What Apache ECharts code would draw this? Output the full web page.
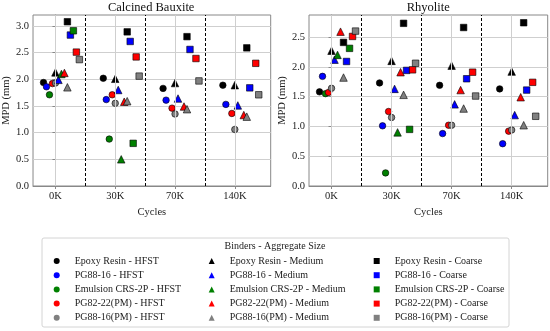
<!DOCTYPE html>
<html>
<head>
<meta charset="utf-8">
<script src="https://cdn.jsdelivr.net/npm/echarts@6/dist/echarts.min.js"></script>
<style>html,body{margin:0;padding:0;background:#fff}#c{width:550px;height:331px}</style>
</head>
<body>
<div id="c"></div>
<script>
const cycles = ['0K', '30K', '70K', '140K'];
const binders = ['Epoxy Resin', 'PG88-16', 'Emulsion CRS-2P', 'PG82-22(PM)', 'PG88-16(PM)'];
const sizes = ['HFST', 'Medium', 'Coarse'];
const plotTitles = ['Calcined Bauxite', 'Rhyolite'];

// Calcined Bauxite: rows = binders, columns = cycles
const bauxiteHFST = [
  [1.94, 2.02, 1.83, 1.89],
  [1.86, 1.62, 1.61, 1.53],
  [1.71, 0.88, null, null],
  [1.92, 1.71, 1.46, 1.36],
  [1.93, 1.55, 1.35, 1.06]
];
const bauxiteMedium = [
  [2.13, 2.01, 1.93, 1.89],
  [1.99, 1.80, 1.64, 1.51],
  [2.10, 0.50, null, null],
  [2.12, 1.58, 1.49, 1.33],
  [1.85, 1.59, 1.44, 1.30]
];
const bauxiteCoarse = [
  [3.08, 2.89, 2.80, 2.59],
  [2.83, 2.71, 2.56, 1.84],
  [2.91, 0.80, null, null],
  [2.51, 2.42, 2.39, 2.30],
  [2.37, 2.06, 1.97, 1.71]
];
// Rhyolite
const rhyoliteHFST = [
  [1.58, 1.73, 1.69, 1.63],
  [1.84, 1.01, 0.88, 0.71],
  [1.55, 0.22, null, null],
  [1.57, 1.25, 1.02, 0.92],
  [1.64, 1.15, 1.02, 0.94]
];
const rhyoliteMedium = [
  [2.27, 2.10, 2.02, 1.92],
  [2.12, 1.63, 1.37, 1.19],
  [2.20, 0.90, null, null],
  [2.59, 1.91, 1.61, 1.49],
  [1.82, 1.53, 1.30, 1.02]
];
const rhyoliteCoarse = [
  [2.41, 2.73, 2.66, 2.74],
  [2.09, 1.94, 1.80, 1.61],
  [2.31, 0.95, null, null],
  [2.51, 1.95, 1.91, 1.74],
  [2.60, 2.06, 1.51, 1.17]
];
const yTicks = [[0, 0.5, 1.0, 1.5, 2.0, 2.5, 3.0], [0, 0.5, 1.0, 1.5, 2.0, 2.5]];

const plotData = [
  [bauxiteHFST, bauxiteMedium, bauxiteCoarse],
  [rhyoliteHFST, rhyoliteMedium, rhyoliteCoarse]
];
const colors = ['#000000', '#0000ff', '#008000', '#ff0000', '#808080'];
const symbols = ['circle', 'triangle', 'rect'];
const symSizes = [6.5, 7.5, 6.5];
const FONT = 'Liberation Serif';

const grids = [
  {left: 31.7, top: 15, width: 239, height: 171},
  {left: 309, top: 15, width: 238.7, height: 171}
];
const yMax = [3.206, 2.87];

const series = [];
for (let p = 0; p < 2; p++) {
  // helper series for vertical grid lines and separators
  series.push({
    type: 'scatter', xAxisIndex: p, yAxisIndex: p, data: [], z: 1, silent: true,
    markLine: {
      silent: true, symbol: 'none', label: {show: false}, animation: false,
      data: [0, 1, 2, 3].map(v => ({xAxis: v, lineStyle: {color: '#cfcfcf', width: 1, type: 'solid'}}))
        .concat([0.5, 1.5, 2.5].map(v => ({xAxis: v, lineStyle: {color: '#000', width: 1, type: [3, 2]}})))
    }
  });
  for (let s = 0; s < 3; s++) {
    for (let b = 0; b < 5; b++) {
      const vals = plotData[p][s][b];
      const off = -0.2 + 0.2 * s + 0.05 * b;
      const data = [];
      vals.forEach((v, i) => { if (v !== null) data.push([i + off, v]); });
      series.push({
        type: 'scatter',
        name: binders[b] + ' - ' + sizes[s],
        xAxisIndex: p, yAxisIndex: p, z: 3,
        symbol: symbols[s], symbolSize: symSizes[s],
        itemStyle: {color: colors[b], borderColor: '#000', borderWidth: 0.6, opacity: 1},
        data: data, animation: false
      });
    }
  }
}

const xAxes = grids.map((g, p) => ({
  type: 'value', gridIndex: p, min: -0.375, max: 3.6,
  name: 'Cycles', nameLocation: 'middle', nameGap: 14,
  nameTextStyle: {fontFamily: FONT, fontSize: 10.5, color: '#222'},
  axisLine: {show: true, lineStyle: {color: '#888'}},
  axisTick: {show: true, customValues: [0, 1, 2, 3], length: 3, lineStyle: {color: '#888'}},
  axisLabel: {customValues: [0, 1, 2, 3], formatter: v => cycles[Math.round(v)], fontFamily: FONT, fontSize: 10.5, color: '#222', margin: 5},
  splitLine: {show: false}
}));
const yAxes = grids.map((g, p) => ({
  type: 'value', gridIndex: p, min: 0, max: yMax[p],
  name: 'MPD (mm)', nameLocation: 'middle', nameGap: 18,
  nameTextStyle: {fontFamily: FONT, fontSize: 10.5, color: '#222'},
  axisLine: {show: true, lineStyle: {color: '#888'}},
  axisTick: {show: true, customValues: yTicks[p], length: 3, lineStyle: {color: '#888'}},
  axisLabel: {customValues: yTicks[p], formatter: v => v.toFixed(1), fontFamily: FONT, fontSize: 10.5, color: '#222', margin: 4},
  splitLine: {show: true, lineStyle: {color: '#cfcfcf', width: 1}}
}));

const legendLefts = [53.7, 208.7, 373.7];
const legends = sizes.map((sz, s) => ({
  orient: 'vertical', left: legendLefts[s], top: 253.9, height: 76, padding: 0,
  itemWidth: 6, itemHeight: 6, itemGap: 0,
  data: binders.map(b => b + ' - ' + sz),
  itemStyle: {borderWidth: 0},
  textStyle: {fontFamily: FONT, fontSize: 10, color: '#222', lineHeight: 14.2, padding: [0, 0, 0, 10]},
  selectedMode: false
}));

const chart = echarts.init(document.getElementById('c'), null, {renderer: 'canvas'});
chart.setOption({
  animation: false,
  backgroundColor: '#fff',
  grid: grids.map(g => Object.assign({show: true, borderColor: '#888', borderWidth: 1, backgroundColor: 'transparent'}, g)),
  xAxis: xAxes,
  yAxis: yAxes,
  legend: legends,
  graphic: [
    {type: 'rect', z: -1, shape: {x: 42, y: 238, width: 467, height: 89, r: 2}, style: {fill: '#fff', stroke: '#d4d4d4', lineWidth: 1}},
    {type: 'text', style: {text: 'Binders - Aggregate Size', x: 275, y: 246, align: 'center', verticalAlign: 'middle', font: '10px "Liberation Serif"', fill: '#222'}},
    {type: 'text', style: {text: plotTitles[0], x: 151.2, y: 8, align: 'center', verticalAlign: 'middle', font: '12.5px "Liberation Serif"', fill: '#111'}},
    {type: 'text', style: {text: plotTitles[1], x: 428.3, y: 8, align: 'center', verticalAlign: 'middle', font: '12.5px "Liberation Serif"', fill: '#111'}}
  ],
  series: series
});
</script>
</body>
</html>
